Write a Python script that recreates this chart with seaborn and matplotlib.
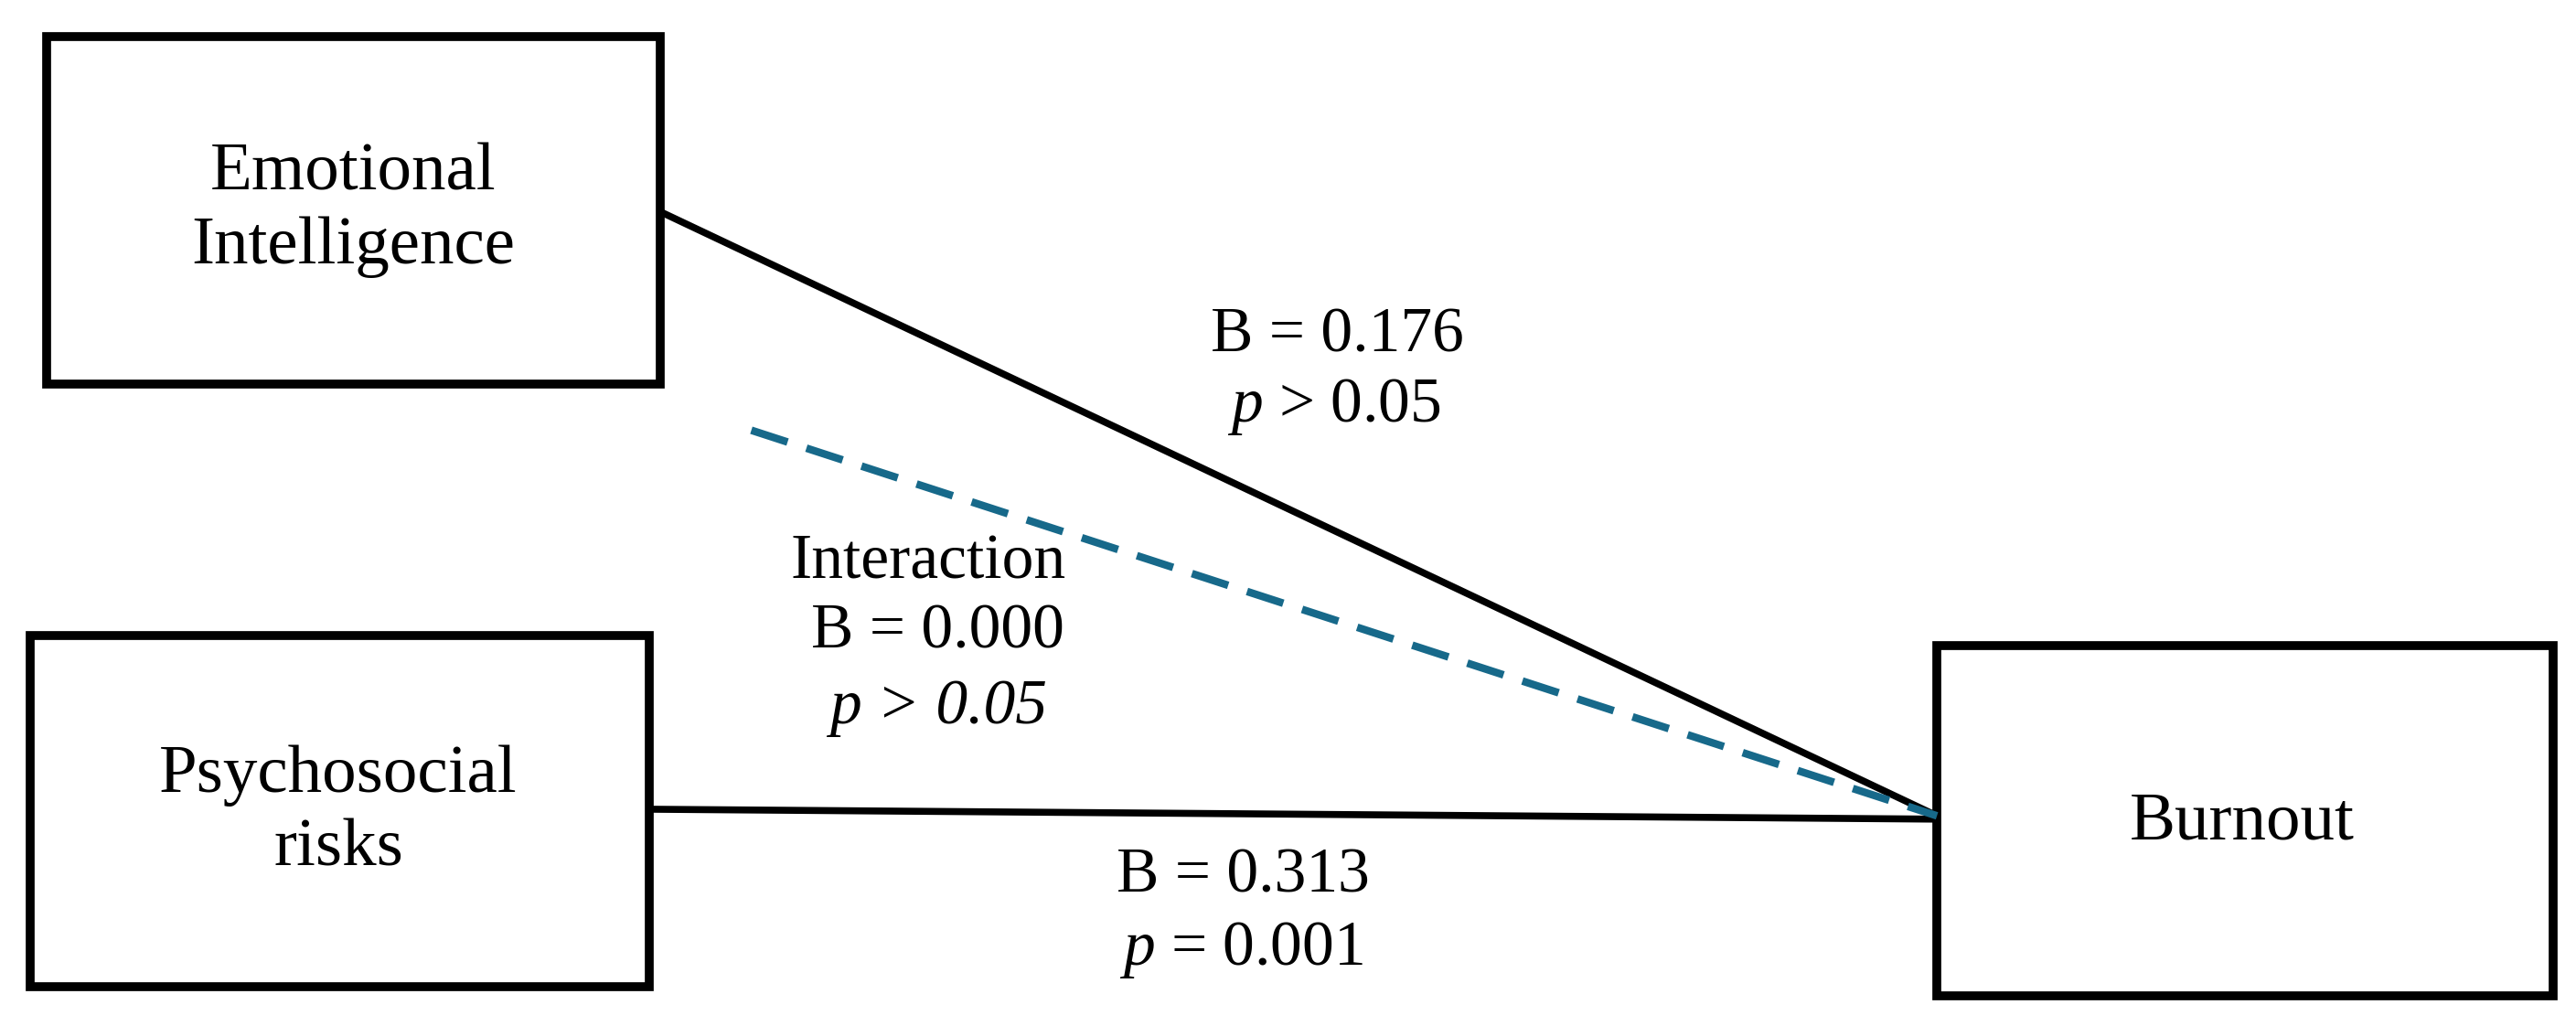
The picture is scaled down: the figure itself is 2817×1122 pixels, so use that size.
import matplotlib
matplotlib.use("Agg")
import matplotlib.pyplot as plt
import seaborn as sns
import pandas as pd
from matplotlib.patches import Rectangle

sns.set_theme(style="white")
plt.rcParams['font.family'] = ['Liberation Serif', 'DejaVu Serif']
plt.rcParams['text.color'] = 'black'
plt.rcParams['mathtext.fontset'] = 'custom'
plt.rcParams['mathtext.rm'] = 'Liberation Serif'
plt.rcParams['mathtext.it'] = 'Liberation Serif:italic'

# Diagram content
node_labels = ["Emotional\nIntelligence", "Psychosocial\nrisks", "Burnout"]
node_x0 = [28, 18, 1173]
node_y0 = [22, 384, 390]
node_x1 = [400, 393, 1546]
node_y1 = [232, 596, 602]

path_x0 = [400, 393]
path_y0 = [128, 489]
path_x1 = [1173, 1173]
path_y1 = [493, 495]
inter_x = [455, 1173]
inter_y = [260, 493]

coef_B = ["0.176", "0.313"]
coef_p = [r"$\it{p}$ > 0.05", r"$\it{p}$ = 0.001"]
inter_B = "0.000"
inter_p = "p > 0.05"

fig = plt.figure(figsize=(28.17, 11.22), dpi=100)
ax = fig.add_axes([0, 0, 1, 1])

for x0, y0, x1, y1 in zip(path_x0, path_y0, path_x1, path_y1):
    df = pd.DataFrame({"x": [x0, x1], "y": [y0, y1]})
    sns.lineplot(data=df, x="x", y="y", ax=ax, color="black", lw=5.5, sort=False)
df = pd.DataFrame({"x": inter_x, "y": inter_y})
sns.lineplot(data=df, x="x", y="y", ax=ax, color="#17698a", lw=6, sort=False,
             linestyle=(0, (5, 2.6)))

for x0, y0, x1, y1 in zip(node_x0, node_y0, node_x1, node_y1):
    ax.add_patch(Rectangle((x0, y0), x1 - x0, y1 - y0, fill=False, ec="black", lw=7))

ax.set_xlim(0, 1560)
ax.set_ylim(620, 0)
ax.axis("off")

fs = 54
ax.text(214, 127, node_labels[0], ha="center", va="center", fontsize=fs, linespacing=1.25)
ax.text(205, 491, node_labels[1], ha="center", va="center", fontsize=fs, linespacing=1.25)
ax.text(1358, 497, node_labels[2], ha="center", va="center", fontsize=fs)

fs2 = 50
ax.text(810, 203, "B = " + coef_B[0], ha="center", va="center", fontsize=fs2)
ax.text(808, 246, coef_p[0], ha="center", va="center", fontsize=fs2)
ax.text(753, 530, "B = " + coef_B[1], ha="center", va="center", fontsize=fs2)
ax.text(752, 574, coef_p[1], ha="center", va="center", fontsize=fs2)
ax.text(562, 340, "Interaction", ha="center", va="center", fontsize=fs2)
ax.text(568, 382, "B = " + inter_B, ha="center", va="center", fontsize=fs2)
ax.text(568, 428, inter_p, ha="center", va="center", fontsize=fs2, fontstyle="italic")

fig.savefig("out.png", dpi=100)
